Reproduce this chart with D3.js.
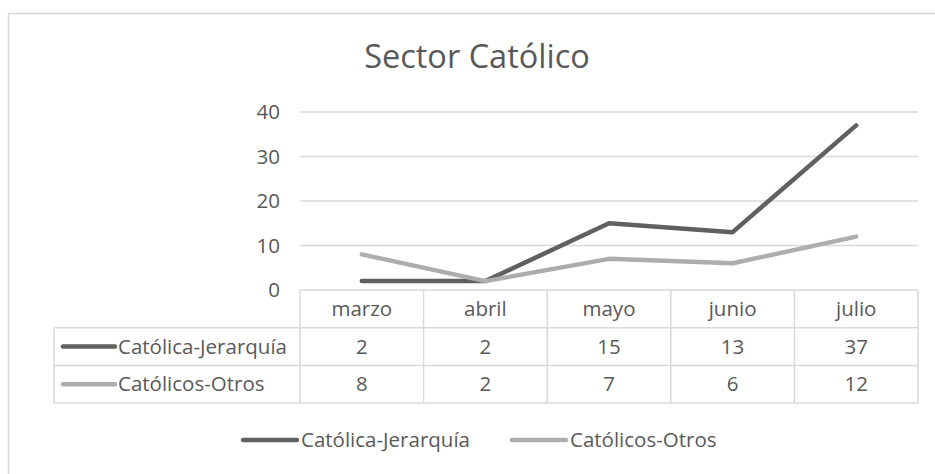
<!DOCTYPE html>
<html>
<head>
<meta charset="utf-8">
<script src="https://cdn.jsdelivr.net/npm/d3@7"></script>
<style>
  body { margin: 0; background: #fff; }
  text { font-family: "Open Sans", Lato, sans-serif; fill: #595959; }
</style>
</head>
<body>
<div id="chart"></div>
<script>
// Data
const months = ["marzo", "abril", "mayo", "junio", "julio"];
const jerarquia = [2, 2, 15, 13, 37];
const otros = [8, 2, 7, 6, 12];
const seriesNames = ["Católica-Jerarquía", "Católicos-Otros"];
const yTicks = [0, 10, 20, 30, 40];
const title = "Sector Católico";

const series = [
    { name: seriesNames[0], values: jerarquia, color: "#606060" },
    { name: seriesNames[1], values: otros, color: "#adadad" }
];

// SVG dimensions
const width = 935;
const height = 474;
const plot = { left: 300, right: 918, top: 112, bottom: 290 };
const rowH = 37.7;
const tableLeft = 54;
const gridColor = "#d9d9d9";
const fontSize = "20.5px";

const svg = d3.select("#chart")
    .append("svg")
    .attr("width", width)
    .attr("height", height);

// Outer frame
svg.append("rect")
    .attr("x", 8.5)
    .attr("y", 13.5)
    .attr("width", width + 10)
    .attr("height", height + 10)
    .attr("fill", "none")
    .attr("stroke", gridColor)
    .attr("stroke-width", 1.5);

// Scales
const xScale = d3.scaleBand()
    .domain(months)
    .range([plot.left, plot.right]);

const yScale = d3.scaleLinear()
    .domain([0, 40])
    .range([plot.bottom, plot.top]);

// Gridlines
svg.append("g")
    .selectAll("line")
    .data(yTicks.filter(d => d > 0))
    .enter().append("line")
    .attr("x1", plot.left)
    .attr("x2", plot.right)
    .attr("y1", d => yScale(d))
    .attr("y2", d => yScale(d))
    .attr("stroke", gridColor)
    .attr("stroke-width", 1.5);

// Y axis labels
const yAxis = d3.axisLeft(yScale).tickValues(yTicks).tickSize(0).tickPadding(20);
const yG = svg.append("g")
    .attr("transform", `translate(${plot.left},0)`)
    .call(yAxis);
yG.select(".domain").remove();
yG.selectAll("text")
    .style("font-family", "'Open Sans', sans-serif")
    .style("font-size", fontSize)
    .attr("fill", "#595959");

// Data table
const table = svg.append("g");
const rowTops = [plot.bottom, plot.bottom + rowH, plot.bottom + 2 * rowH];
const tableBottom = plot.bottom + 3 * rowH;

// horizontal rules
table.append("line")
    .attr("x1", plot.left).attr("x2", plot.right)
    .attr("y1", rowTops[0]).attr("y2", rowTops[0]);
[rowTops[1], rowTops[2], tableBottom].forEach(y => {
    table.append("line")
        .attr("x1", tableLeft).attr("x2", plot.right)
        .attr("y1", y).attr("y2", y);
});
// vertical rules
const colEdges = months.map(m => xScale(m)).concat([plot.right]);
colEdges.forEach(x => {
    table.append("line")
        .attr("x1", x).attr("x2", x)
        .attr("y1", rowTops[0]).attr("y2", tableBottom);
});
table.append("line")
    .attr("x1", tableLeft).attr("x2", tableLeft)
    .attr("y1", rowTops[1]).attr("y2", tableBottom);
table.selectAll("line")
    .attr("stroke", gridColor)
    .attr("stroke-width", 1.5);

// header labels
table.selectAll(".month")
    .data(months)
    .enter().append("text")
    .attr("class", "month")
    .attr("x", d => xScale(d) + xScale.bandwidth() / 2)
    .attr("y", rowTops[0] + rowH / 2)
    .attr("dy", "0.35em")
    .attr("text-anchor", "middle")
    .style("font-size", fontSize)
    .text(d => d);

// series rows
series.forEach((s, i) => {
    const cy = rowTops[i + 1] + rowH / 2;
    table.append("line")
        .attr("x1", 63).attr("x2", 115)
        .attr("y1", cy).attr("y2", cy)
        .attr("stroke", s.color)
        .attr("stroke-width", 4.5)
        .attr("stroke-linecap", "round");
    table.append("text")
        .attr("x", 118)
        .attr("y", cy)
        .attr("dy", "0.35em")
        .style("font-size", fontSize)
        .text(s.name);
    table.selectAll(".val" + i)
        .data(s.values)
        .enter().append("text")
        .attr("x", (d, j) => xScale(months[j]) + xScale.bandwidth() / 2)
        .attr("y", cy)
        .attr("dy", "0.35em")
        .attr("text-anchor", "middle")
        .style("font-size", fontSize)
        .text(d => d);
});

// Lines
const valueline = d3.line()
    .x((d, i) => xScale(months[i]) + xScale.bandwidth() / 2)
    .y(d => yScale(d));

series.forEach(s => {
    svg.append("path")
        .datum(s.values)
        .attr("d", valueline)
        .attr("fill", "none")
        .attr("stroke", s.color)
        .attr("stroke-width", 4.5)
        .attr("stroke-linecap", "round")
        .attr("stroke-linejoin", "round");
});

// Title
svg.append("text")
    .attr("x", 477)
    .attr("y", 68)
    .attr("text-anchor", "middle")
    .style("font-size", "32.5px")
    .text(title);

// Legend
const legendX = [243, 512];
const legendY = 440;
series.forEach((s, i) => {
    svg.append("line")
        .attr("x1", legendX[i]).attr("x2", legendX[i] + 54)
        .attr("y1", legendY).attr("y2", legendY)
        .attr("stroke", s.color)
        .attr("stroke-width", 4.5)
        .attr("stroke-linecap", "round");
    svg.append("text")
        .attr("x", legendX[i] + 58)
        .attr("y", legendY)
        .attr("dy", "0.35em")
        .style("font-size", fontSize)
        .text(s.name);
});
</script>
</body>
</html>
